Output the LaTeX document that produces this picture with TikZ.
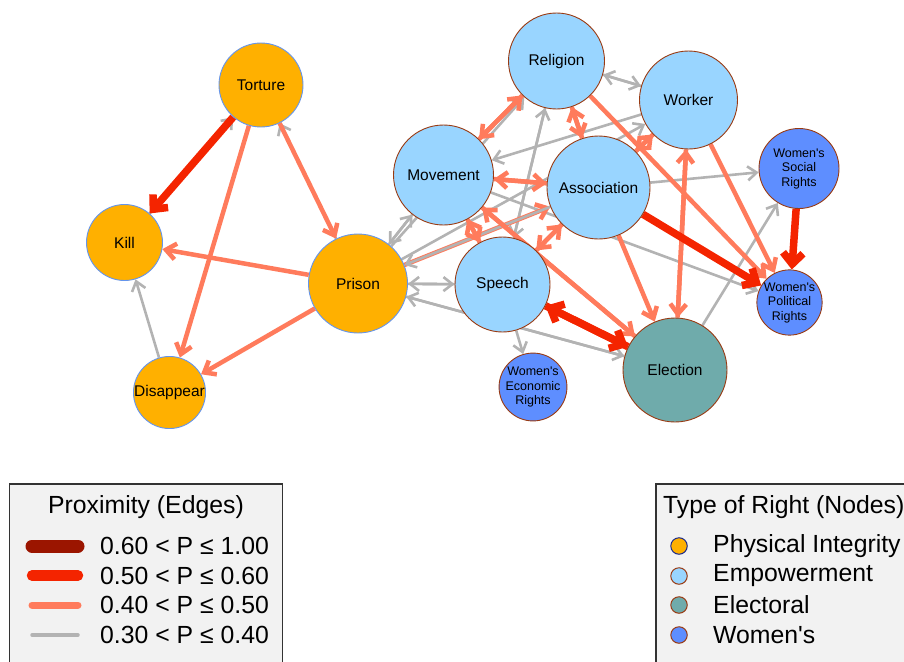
\documentclass[tikz,border=0pt]{standalone}
\usepackage{fontspec}
\setmainfont{Liberation Sans}[Ligatures=TeXOff]
\usetikzlibrary{arrows.meta}
\definecolor{phys}{HTML}{FFB000}
\definecolor{physb}{HTML}{6495ED}
\definecolor{emp}{HTML}{99D5FF}
\definecolor{elec}{HTML}{6FABAB}
\definecolor{wom}{HTML}{5E8EFF}
\definecolor{brownb}{HTML}{993A12}
\definecolor{navyb}{HTML}{1A2A8C}
\definecolor{egray}{HTML}{B3B3B3}
\definecolor{esalmon}{HTML}{FF7B5C}
\definecolor{ered}{HTML}{F42400}
\definecolor{edark}{HTML}{9B1500}
\definecolor{legbg}{HTML}{F2F2F2}
\definecolor{legb}{HTML}{333333}
\pgfdeclarelayer{edgelayer}
\pgfsetlayers{edgelayer,main}
\tikzset{
  rn/.style={circle, inner sep=0pt, line width=0.9pt, align=center, text=black,
    font=\fontsize{15.5}{17}\selectfont},
  physn/.style={rn, fill=phys, draw=physb},
  empn/.style={rn, fill=emp, draw=brownb},
  elen/.style={rn, fill=elec, draw=brownb},
  womn/.style={rn, fill=wom, draw=brownb, font=\fontsize{12.5}{14.5}\selectfont},
  eg/.style={draw=egray, line width=2.6pt, -{Straight Barb[length=9pt,width=14pt]}},
  es/.style={draw=esalmon, line width=4.5pt, -{Straight Barb[length=10pt,width=16pt]}},
  er/.style={draw=ered, line width=7.5pt, -{Straight Barb[length=11pt,width=20pt]}},
  legtext/.style={font=\fontsize{24.8}{27}\selectfont, text=black, inner sep=0pt},
  legdot/.style={circle, inner sep=0pt, minimum size=16.5pt, line width=1pt},
}
\begin{document}
\begin{tikzpicture}[x=1pt,y=-1pt]
\useasboundingbox (0,0) rectangle (904,661);
\clip (0,0) rectangle (904,661);

% nodes
\node[physn, minimum size=84pt] (tor) at (261,85) {Torture};
\node[physn, minimum size=76pt] (kil) at (124.5,242.5) {Kill};
\node[physn, minimum size=99pt] (pri) at (358,283.5) {Prison};
\node[physn, minimum size=63pt] (dis) at (169.5,392.5) {Disappear};
\node[empn, minimum size=96pt] (rel) at (556.5,61) {Religion};
\node[empn, minimum size=100pt] (mov) at (443.5,175) {Movement};
\node[empn, minimum size=103pt] (ass) at (598.5,187.5) {Association};
\node[empn, minimum size=98pt] (wor) at (688.5,100) {Worker};
\node[empn, minimum size=95pt] (spe) at (502.5,284.5) {Speech};
\node[womn, minimum size=64pt] (wer) at (533,387) {Women's\\Economic\\Rights};
\node[elen, minimum size=104pt] (ele) at (675,370) {Election};
\node[womn, minimum size=80pt] (wsr) at (799,168.5) {Women's\\Social\\Rights};
\node[womn, minimum size=61pt] (wpr) at (789.5,302.5) {Women's\\Political\\Rights};

\begin{pgfonlayer}{edgelayer}
% gray edges
\draw[eg] (kil) -- (tor);
\draw[eg] (pri) -- (tor);
\draw[eg] (dis) -- (kil);
\draw[eg] (mov) -- (pri);
\draw[eg] (pri) -- (mov);
\draw[eg] (pri) -- (rel);
\draw[eg] (pri) -- (spe);
\draw[eg] (spe) -- (pri);
\draw[eg] (pri) -- (ele);
\draw[eg] (ele) -- (pri);
\draw[eg] (pri) -- (wor);
\draw[eg] (rel) -- (spe);
\draw[eg] (spe) -- (rel);
\draw[eg] (rel) -- (wor);
\draw[eg] (wor) -- (rel);
\draw[eg] (wor) -- (mov);
\draw[eg] (mov) -- (wpr);
\draw[eg] (ass) -- (wsr);
\draw[eg] (spe) -- (wer);
\draw[eg] (ele) -- (wsr);
% salmon edges
\draw[es] (pri) -- (ass);
\draw[eg] (ass) -- (pri);
\draw[es] (tor) -- (pri);
\draw[es] (tor) -- (dis);
\draw[es] (pri) -- (kil);
\draw[es] (pri) -- (dis);
\draw[es] (rel) -- (mov);
\draw[es] (mov) -- (rel);
\draw[es] (rel) -- (ass);
\draw[es] (ass) -- (rel);
\draw[es] (rel) -- (wpr);
\draw[es] (mov) -- (ass);
\draw[es] (ass) -- (mov);
\draw[es] (mov) -- (spe);
\draw[es] (spe) -- (mov);
\draw[es] (mov) -- (ele);
\draw[es] (ele) -- (mov);
\draw[es] (ass) -- (wor);
\draw[es] (wor) -- (ass);
\draw[es] (ass) -- (spe);
\draw[es] (spe) -- (ass);
\draw[es] (ass) -- (ele);
\draw[es] (wor) -- (ele);
\draw[es] (ele) -- (wor);
\draw[es] (wor) -- (wpr);
% red edges
\draw[er] (tor) -- (kil);
\draw[er] (ass) -- (wpr);
\draw[er] (spe) -- (ele);
\draw[er] (ele) -- (spe);
\draw[er] (wsr) -- (wpr);
\end{pgfonlayer}

% legend: edges
\draw[draw=legb, fill=legbg, line width=1.6pt] (9.5,484) rectangle (282.5,700);
\node[legtext] (lt1) at (146,507) {Proximity (Edges)};
\draw[draw=edark, line width=13pt, line cap=round] (32,546) -- (78,546);
\draw[draw=ered, line width=10.5pt, line cap=round] (32,575.5) -- (78,575.5);
\draw[draw=esalmon, line width=7pt, line cap=round] (32,605) -- (78,605);
\draw[draw=egray, line width=3.5pt, line cap=round] (32,635) -- (78,635);
\node[legtext, anchor=west] (l1) at (100,546) {0.60 < P ≤ 1.00};
\node[legtext, anchor=west] (l2) at (100,576) {0.50 < P ≤ 0.60};
\node[legtext, anchor=west] (l3) at (100,605) {0.40 < P ≤ 0.50};
\node[legtext, anchor=west] (l4) at (100,635) {0.30 < P ≤ 0.40};

% legend: nodes
\draw[draw=legb, fill=legbg, line width=1.6pt] (656,484) rectangle (940,700);
\node[legtext, anchor=west] (lt2) at (663,507) {Type of Right (Nodes)};
\node[legdot, fill=phys, draw=navyb] (d1) at (679,546) {};
\node[legdot, fill=emp, draw=brownb] (d2) at (679,576) {};
\node[legdot, fill=elec, draw=brownb] (d3) at (679,605) {};
\node[legdot, fill=wom, draw=brownb] (d4) at (679,635) {};
\node[legtext, anchor=west] (n1) at (713,546) {Physical Integrity};
\node[legtext, anchor=west] (n2) at (713,576) {Empowerment};
\node[legtext, anchor=west] (n3) at (713,605) {Electoral};
\node[legtext, anchor=west] (n4) at (713,635) {Women's};
\end{tikzpicture}
\end{document}
